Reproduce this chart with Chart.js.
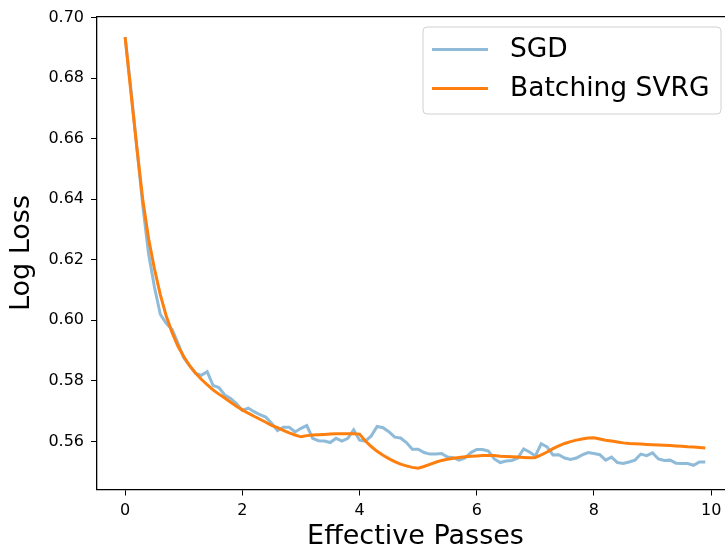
<!DOCTYPE html>
<html>
<head>
<meta charset="utf-8">
<script src="https://cdn.jsdelivr.net/npm/chart.js@4.4.0/dist/chart.umd.min.js"></script>
<style>
    html, body { margin: 0; padding: 0; background: #fff; overflow: hidden; }
    #wrap { position: relative; width: 745px; height: 552px; }
</style>
</head>
<body>
<div id="wrap"><canvas id="lossChart" width="745" height="552"></canvas></div>
<script>
// effective passes (x grid)
const passes = [
    0.0, 0.1, 0.2, 0.3, 0.4, 0.5, 0.6, 0.7, 0.8, 0.9,
    1.0, 1.1, 1.2, 1.3, 1.4, 1.5, 1.6, 1.7, 1.8, 1.9,
    2.0, 2.1, 2.2, 2.3, 2.4, 2.5, 2.6, 2.7, 2.8, 2.9,
    3.0, 3.1, 3.2, 3.3, 3.4, 3.5, 3.6, 3.7, 3.8, 3.9,
    4.0, 4.1, 4.2, 4.3, 4.4, 4.5, 4.6, 4.7, 4.8, 4.9,
    5.0, 5.1, 5.2, 5.3, 5.4, 5.5, 5.6, 5.7, 5.8, 5.9,
    6.0, 6.1, 6.2, 6.3, 6.4, 6.5, 6.6, 6.7, 6.8, 6.9,
    7.0, 7.1, 7.2, 7.3, 7.4, 7.5, 7.6, 7.7, 7.8, 7.9,
    8.0, 8.1, 8.2, 8.3, 8.4, 8.5, 8.6, 8.7, 8.8, 8.9,
    9.0, 9.1, 9.2, 9.3, 9.4, 9.5, 9.6, 9.7, 9.8, 9.9
];

const sgdLoss = [
    0.6935, 0.6760, 0.6570, 0.6380, 0.6220, 0.6110, 0.6020, 0.5990, 0.5970, 0.5925,
    0.5876, 0.5850, 0.5825, 0.5818, 0.5830, 0.5785, 0.5778, 0.5753, 0.5742, 0.5725,
    0.5702, 0.5710, 0.5698, 0.5688, 0.5680, 0.5660, 0.5636, 0.5647, 0.5647, 0.5631,
    0.5643, 0.5652, 0.5610, 0.5602, 0.5601, 0.5596, 0.5610, 0.5601, 0.5610, 0.5638,
    0.5604, 0.5601, 0.5618, 0.5649, 0.5645, 0.5632, 0.5614, 0.5611, 0.5596, 0.5574,
    0.5574, 0.5563, 0.5558, 0.5558, 0.5560, 0.5548, 0.5546, 0.5538, 0.5545, 0.5563,
    0.5573, 0.5573, 0.5568, 0.5542, 0.5530, 0.5535, 0.5537, 0.5545, 0.5575, 0.5565,
    0.5552, 0.5592, 0.5582, 0.5555, 0.5556, 0.5545, 0.5540, 0.5545, 0.5555, 0.5563,
    0.5560, 0.5556, 0.5538, 0.5548, 0.5530, 0.5527, 0.5532, 0.5538, 0.5558, 0.5553,
    0.5562, 0.5542, 0.5537, 0.5538, 0.5528, 0.5527, 0.5527, 0.5521, 0.5532, 0.5532
];

const svrgLoss = [
    0.6935, 0.6750, 0.6570, 0.6400, 0.6270, 0.6170, 0.6085, 0.6015, 0.5960, 0.5915,
    0.5880, 0.5850, 0.5826, 0.5805, 0.5787, 0.5770, 0.5756, 0.5743, 0.5729, 0.5716,
    0.5704, 0.5693, 0.5683, 0.5673, 0.5663, 0.5653, 0.5645, 0.5636, 0.5628, 0.5621,
    0.5615, 0.5619, 0.5621, 0.5622, 0.5623, 0.5624, 0.5625, 0.5625, 0.5625, 0.5625,
    0.5624, 0.5601, 0.5583, 0.5567, 0.5554, 0.5543, 0.5533, 0.5525, 0.5519, 0.5514,
    0.5511, 0.5517, 0.5524, 0.5531, 0.5537, 0.5541, 0.5544, 0.5547, 0.5549, 0.5551,
    0.5552, 0.5553, 0.5553, 0.5553, 0.5551, 0.5550, 0.5549, 0.5548, 0.5547, 0.5546,
    0.5547, 0.5555, 0.5565, 0.5576, 0.5585, 0.5593, 0.5599, 0.5604, 0.5608, 0.5611,
    0.5612, 0.5608, 0.5604, 0.5601, 0.5598, 0.5595, 0.5593, 0.5592, 0.5591, 0.5590,
    0.5589, 0.5588, 0.5587, 0.5586, 0.5585, 0.5584, 0.5582, 0.5581, 0.5580, 0.5578
];

const xTicks = [0, 2, 4, 6, 8, 10];
const yTicks = [0.56, 0.58, 0.60, 0.62, 0.64, 0.66, 0.68, 0.70];

const FONT = "'DejaVu Sans', sans-serif";

const toPoints = (vals) => vals.map((v, i) => ({ x: passes[i], y: v }));

// top spine + matplotlib-like legend box
const framePlugin = {
    id: 'frame',
    afterDraw(chart) {
        const ctx = chart.ctx;
        const area = chart.chartArea;
        ctx.save();
        ctx.strokeStyle = '#000';
        ctx.lineWidth = 1.3;
        ctx.beginPath();
        ctx.moveTo(area.left, area.top);
        ctx.lineTo(area.right + 2, area.top);
        ctx.stroke();

        // legend
        const bx = 423, by = 27, bw = 298, bh = 87, r = 4;
        ctx.fillStyle = 'rgba(255,255,255,0.8)';
        ctx.strokeStyle = '#d0d0d0';
        ctx.lineWidth = 1;
        ctx.beginPath();
        ctx.moveTo(bx + r, by);
        ctx.lineTo(bx + bw - r, by);
        ctx.arcTo(bx + bw, by, bx + bw, by + r, r);
        ctx.lineTo(bx + bw, by + bh - r);
        ctx.arcTo(bx + bw, by + bh, bx + bw - r, by + bh, r);
        ctx.lineTo(bx + r, by + bh);
        ctx.arcTo(bx, by + bh, bx, by + bh - r, r);
        ctx.lineTo(bx, by + r);
        ctx.arcTo(bx, by, bx + r, by, r);
        ctx.closePath();
        ctx.fill();
        ctx.stroke();

        const rows = [49.5, 88.5];
        ctx.font = '26.5px ' + FONT;
        ctx.textBaseline = 'middle';
        ctx.textAlign = 'left';
        chart.data.datasets.forEach((ds, i) => {
            const y = rows[i];
            ctx.strokeStyle = ds.borderColor;
            ctx.lineWidth = ds.borderWidth;
            ctx.beginPath();
            ctx.moveTo(432, y);
            ctx.lineTo(488, y);
            ctx.stroke();
            ctx.fillStyle = '#000';
            ctx.fillText(ds.label, 510, y + 1);
        });
        ctx.restore();
    }
};

const ctx = document.getElementById('lossChart').getContext('2d');
const lossChart = new Chart(ctx, {
    type: 'line',
    data: {
        datasets: [
            {
                label: 'SGD',
                data: toPoints(sgdLoss),
                borderColor: 'rgba(31,119,180,0.5)',
                borderWidth: 3,
                pointRadius: 0,
                tension: 0,
                order: 2
            },
            {
                label: 'Batching SVRG',
                data: toPoints(svrgLoss),
                borderColor: '#ff7f0e',
                borderWidth: 3,
                pointRadius: 0,
                tension: 0,
                order: 1
            }
        ]
    },
    options: {
        responsive: false,
        animation: false,
        layout: { padding: { top: 14, right: 11, left: 0, bottom: 0 } },
        plugins: {
            legend: { display: false },
            tooltip: { enabled: false }
        },
        scales: {
            x: {
                type: 'linear',
                min: -0.48,
                max: 10.39,
                afterFit: (scale) => { scale.height = 62.5; },
                afterBuildTicks: (scale) => { scale.ticks = xTicks.map(v => ({ value: v })); },
                ticks: {
                    color: '#000',
                    font: { family: FONT, size: 16 },
                    padding: 6,
                    maxRotation: 0,
                    callback: (v) => String(v)
                },
                grid: {
                    drawOnChartArea: false,
                    drawTicks: true,
                    tickLength: 6,
                    color: '#000',
                    lineWidth: 1
                },
                border: { display: true, color: '#000', width: 1.3 },
                title: {
                    display: true,
                    text: 'Effective Passes',
                    color: '#000',
                    font: { family: FONT, size: 27 },
                    padding: { top: 0, bottom: -1.5 }
                }
            },
            y: {
                type: 'linear',
                min: 0.5441,
                max: 0.7003,
                afterFit: (scale) => { scale.width = 97; },
                afterBuildTicks: (scale) => { scale.ticks = yTicks.map(v => ({ value: v })); },
                ticks: {
                    color: '#000',
                    font: { family: FONT, size: 16 },
                    padding: 7,
                    callback: (v) => Number(v).toFixed(2)
                },
                grid: {
                    drawOnChartArea: false,
                    drawTicks: true,
                    tickLength: 6,
                    color: '#000',
                    lineWidth: 1
                },
                border: { display: true, color: '#000', width: 1.3 },
                title: {
                    display: true,
                    text: 'Log Loss',
                    color: '#000',
                    font: { family: FONT, size: 27 },
                    padding: { top: 6, bottom: 0 }
                }
            }
        }
    },
    plugins: [framePlugin]
});
</script>
</body>
</html>
